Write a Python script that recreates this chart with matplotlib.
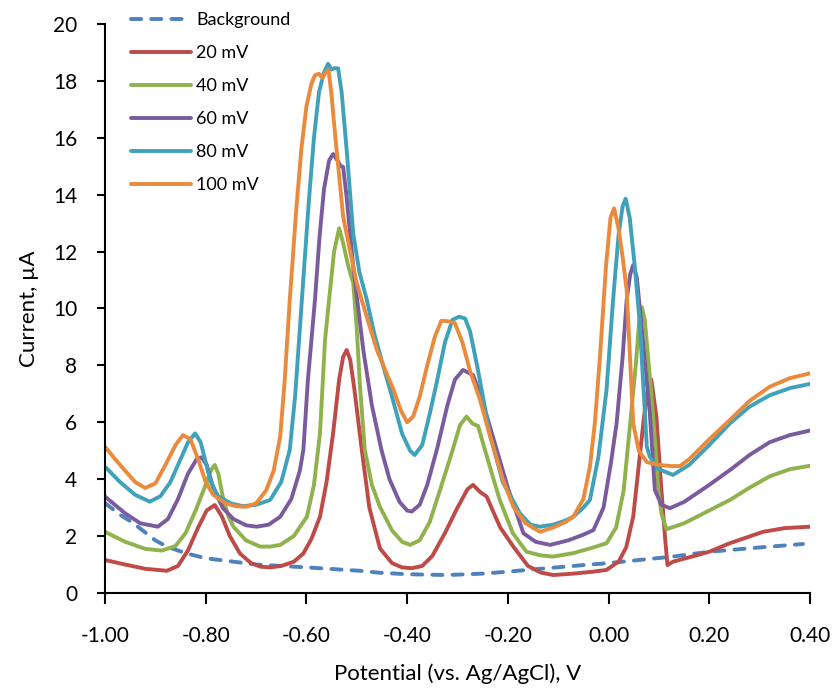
import matplotlib.pyplot as plt
from matplotlib.ticker import FormatStrFormatter, MultipleLocator

plt.rcParams['font.family'] = ['Lato', 'DejaVu Sans']

# Differential pulse voltammograms, current (uA) vs potential (V)
bg_x = [-1.00, -0.97, -0.944, -0.90, -0.877, -0.84, -0.80, -0.745, -0.70, -0.60,
        -0.494, -0.454, -0.40, -0.321, -0.25, -0.20, -0.123, -0.05, 0.00, 0.128,
        0.20, 0.30, 0.386]
bg_y = [3.16, 2.75, 2.46, 1.85, 1.63, 1.40, 1.22, 1.10, 1.00, 0.90,
        0.78, 0.71, 0.66, 0.63, 0.68, 0.75, 0.87, 0.98, 1.05, 1.28,
        1.45, 1.60, 1.72]

mv20_x = [-1.00, -0.96, -0.92, -0.877, -0.855, -0.835, -0.815, -0.798, -0.782, -0.768,
          -0.752, -0.732, -0.71, -0.69, -0.672, -0.65, -0.625, -0.606, -0.59, -0.573,
          -0.56, -0.547, -0.535, -0.527, -0.52, -0.513, -0.505, -0.49, -0.475, -0.454,
          -0.43, -0.41, -0.391, -0.37, -0.35, -0.325, -0.30, -0.28, -0.269, -0.255,
          -0.242, -0.23, -0.215, -0.189, -0.16, -0.135, -0.11, -0.07, -0.03, -0.004,
          0.02, 0.035, 0.049, 0.062, 0.069, 0.076, 0.085, 0.095, 0.105, 0.112,
          0.117, 0.128, 0.17, 0.20, 0.241, 0.307, 0.35, 0.40]
mv20_y = [1.16, 1.00, 0.85, 0.78, 0.95, 1.50, 2.30, 2.90, 3.09, 2.70,
          2.00, 1.39, 1.05, 0.92, 0.90, 0.95, 1.10, 1.39, 1.90, 2.68,
          3.90, 5.61, 7.50, 8.30, 8.54, 8.20, 7.20, 5.03, 3.00, 1.57,
          1.05, 0.90, 0.87, 0.95, 1.30, 2.10, 3.00, 3.65, 3.80, 3.55,
          3.39, 2.90, 2.30, 1.63, 0.95, 0.72, 0.63, 0.68, 0.75, 0.81,
          1.10, 1.60, 2.68, 4.80, 5.96, 7.00, 7.50, 6.20, 3.62, 2.00,
          0.98, 1.10, 1.30, 1.45, 1.75, 2.15, 2.28, 2.33]

mv40_x = [-1.00, -0.96, -0.92, -0.887, -0.86, -0.84, -0.82, -0.80, -0.79, -0.782,
          -0.775, -0.765, -0.755, -0.745, -0.72, -0.692, -0.672, -0.652, -0.625, -0.599,
          -0.585, -0.573, -0.563, -0.555, -0.545, -0.535, -0.527, -0.517, -0.507, -0.50,
          -0.494, -0.484, -0.47, -0.454, -0.43, -0.41, -0.394, -0.375, -0.355, -0.335,
          -0.31, -0.295, -0.282, -0.27, -0.259, -0.245, -0.23, -0.216, -0.19, -0.163,
          -0.135, -0.11, -0.07, -0.03, -0.004, 0.015, 0.03, 0.043, 0.055, 0.061,
          0.066, 0.072, 0.085, 0.093, 0.099, 0.105, 0.115, 0.15, 0.20, 0.241,
          0.28, 0.32, 0.36, 0.40]
mv40_y = [2.15, 1.80, 1.55, 1.49, 1.65, 2.10, 2.90, 3.80, 4.30, 4.50,
          4.20, 3.30, 2.70, 2.33, 1.85, 1.63, 1.63, 1.69, 2.00, 2.68,
          3.80, 5.61, 8.89, 10.30, 12.00, 12.82, 12.30, 11.50, 10.89, 9.30,
          7.37, 5.03, 3.80, 3.03, 2.20, 1.80, 1.69, 1.85, 2.50, 3.60,
          5.00, 5.90, 6.20, 5.95, 5.87, 5.00, 4.10, 3.27, 2.10, 1.45,
          1.32, 1.28, 1.40, 1.60, 1.75, 2.30, 3.60, 5.96, 8.20, 9.60,
          10.05, 9.60, 7.00, 5.20, 3.62, 2.80, 2.24, 2.45, 2.90, 3.27,
          3.70, 4.10, 4.35, 4.47]

mv60_x = [-1.00, -0.96, -0.93, -0.895, -0.875, -0.855, -0.835, -0.818, -0.808, -0.798,
          -0.785, -0.766, -0.745, -0.72, -0.699, -0.675, -0.652, -0.63, -0.613, -0.606,
          -0.597, -0.59, -0.583, -0.574, -0.565, -0.555, -0.547, -0.538, -0.532, -0.527,
          -0.52, -0.507, -0.497, -0.487, -0.47, -0.451, -0.435, -0.415, -0.40, -0.391,
          -0.375, -0.36, -0.34, -0.32, -0.305, -0.289, -0.269, -0.255, -0.238, -0.222,
          -0.20, -0.169, -0.145, -0.116, -0.08, -0.05, -0.03, -0.01, 0.005, 0.016,
          0.028, 0.036, 0.043, 0.049, 0.056, 0.065, 0.075, 0.082, 0.092, 0.105,
          0.122, 0.15, 0.20, 0.241, 0.28, 0.32, 0.36, 0.40]
mv60_y = [3.39, 2.80, 2.45, 2.33, 2.60, 3.30, 4.20, 4.70, 4.77, 4.50,
          3.70, 2.99, 2.60, 2.38, 2.33, 2.40, 2.68, 3.30, 4.30, 5.03,
          7.49, 8.89, 10.30, 12.50, 14.20, 15.20, 15.43, 15.20, 15.00, 14.98,
          13.90, 11.47, 10.00, 8.54, 6.60, 5.03, 4.00, 3.20, 2.90, 2.86,
          3.10, 3.80, 5.10, 6.60, 7.50, 7.84, 7.66, 7.00, 6.00, 5.03,
          3.70, 2.10, 1.80, 1.69, 1.85, 2.05, 2.21, 3.00, 4.60, 5.96,
          8.30, 10.30, 11.20, 11.53, 11.10, 9.50, 7.60, 6.32, 3.62, 3.10,
          2.98, 3.20, 3.80, 4.32, 4.85, 5.30, 5.55, 5.71]

mv80_x = [-1.00, -0.97, -0.94, -0.911, -0.89, -0.87, -0.85, -0.835, -0.821, -0.81,
          -0.80, -0.79, -0.775, -0.75, -0.726, -0.70, -0.672, -0.65, -0.633, -0.622,
          -0.609, -0.595, -0.585, -0.575, -0.565, -0.557, -0.55, -0.544, -0.537, -0.53,
          -0.52, -0.507, -0.495, -0.48, -0.465, -0.447, -0.43, -0.41, -0.394, -0.385,
          -0.37, -0.355, -0.34, -0.325, -0.31, -0.297, -0.285, -0.275, -0.26, -0.236,
          -0.21, -0.176, -0.155, -0.136, -0.11, -0.085, -0.07, -0.05, -0.037, -0.02,
          -0.004, 0.009, 0.02, 0.028, 0.034, 0.042, 0.052, 0.062, 0.07, 0.076,
          0.082, 0.10, 0.128, 0.16, 0.20, 0.241, 0.28, 0.32, 0.36, 0.40]
mv80_y = [4.44, 3.90, 3.45, 3.21, 3.40, 3.90, 4.70, 5.30, 5.61, 5.30,
          4.60, 3.90, 3.40, 3.15, 3.05, 3.10, 3.27, 3.90, 5.03, 7.00,
          10.30, 13.80, 16.00, 17.60, 18.30, 18.60, 18.40, 18.45, 18.44, 17.60,
          15.57, 12.64, 11.30, 10.30, 9.10, 7.95, 6.90, 5.60, 5.00, 4.85,
          5.20, 6.30, 7.50, 8.80, 9.60, 9.71, 9.65, 9.20, 7.90, 5.61,
          3.90, 2.80, 2.40, 2.33, 2.40, 2.55, 2.68, 3.00, 3.27, 4.80,
          7.14, 10.30, 12.60, 13.60, 13.86, 13.20, 11.50, 9.49, 7.00, 5.14,
          4.79, 4.35, 4.15, 4.50, 5.20, 5.96, 6.55, 6.95, 7.20, 7.35]

mv100_x = [-1.00, -0.97, -0.94, -0.92, -0.90, -0.88, -0.86, -0.845, -0.83, -0.815,
           -0.80, -0.785, -0.76, -0.74, -0.72, -0.70, -0.68, -0.665, -0.652, -0.643,
           -0.633, -0.62, -0.61, -0.60, -0.59, -0.583, -0.575, -0.568, -0.562, -0.556,
           -0.55, -0.545, -0.54, -0.527, -0.513, -0.50, -0.48, -0.46, -0.445, -0.427,
           -0.412, -0.40, -0.388, -0.375, -0.36, -0.345, -0.332, -0.318, -0.305, -0.29,
           -0.275, -0.255, -0.235, -0.21, -0.189, -0.165, -0.136, -0.11, -0.085, -0.07,
           -0.05, -0.037, -0.027, -0.017, -0.005, 0.004, 0.011, 0.02, 0.028, 0.036,
           0.042, 0.049, 0.06, 0.076, 0.10, 0.125, 0.142, 0.16, 0.20, 0.241,
           0.28, 0.32, 0.36, 0.40]
mv100_y = [5.14, 4.50, 3.90, 3.69, 3.85, 4.50, 5.20, 5.55, 5.40, 4.70,
           3.90, 3.45, 3.15, 3.05, 3.03, 3.15, 3.60, 4.30, 5.50, 7.50,
           10.30, 13.50, 15.60, 17.10, 17.90, 18.20, 18.25, 18.10, 18.30, 18.38,
           17.50, 16.50, 15.57, 13.23, 12.00, 10.89, 9.70, 8.54, 7.90, 7.14,
           6.40, 6.00, 6.20, 6.90, 8.00, 9.00, 9.57, 9.55, 9.48, 8.80,
           7.80, 6.78, 5.50, 4.00, 3.03, 2.45, 2.15, 2.30, 2.50, 2.68,
           3.30, 4.44, 6.00, 8.31, 11.50, 13.20, 13.52, 12.80, 11.80, 10.65,
           8.50, 5.96, 5.00, 4.60, 4.50, 4.46, 4.46, 4.70, 5.40, 6.08,
           6.75, 7.25, 7.55, 7.72]

fig = plt.figure(figsize=(8.37, 6.92), dpi=100)
ax = fig.add_axes([0.1254, 0.1431, 0.8423, 0.8222])

lw = 2.8
style = dict(linewidth=lw, solid_joinstyle="round", solid_capstyle="round")
ax.plot(bg_x, bg_y, color="#4F81BD", linewidth=lw, dashes=(2.6, 2.6),
        dash_capstyle="round", label="Background")
ax.plot(mv20_x, mv20_y, color="#BE4B48", label="20 mV", **style)
ax.plot(mv40_x, mv40_y, color="#8FB24D", label="40 mV", **style)
ax.plot(mv60_x, mv60_y, color="#7A5C9E", label="60 mV", **style)
ax.plot(mv80_x, mv80_y, color="#3FA2BA", label="80 mV", **style)
ax.plot(mv100_x, mv100_y, color="#EA8A3C", label="100 mV", **style)

ax.set_xlim(-1.0, 0.4)
ax.set_ylim(0, 20)
ax.xaxis.set_major_locator(MultipleLocator(0.2))
ax.xaxis.set_major_formatter(FormatStrFormatter("%.2f"))
ax.yaxis.set_major_locator(MultipleLocator(2))

for side in ["top", "right"]:
    ax.spines[side].set_visible(False)
for side in ["left", "bottom"]:
    ax.spines[side].set_linewidth(1.5)
ax.tick_params(axis="x", direction="out", length=8, width=1.5, labelsize=15, pad=16)
ax.tick_params(axis="y", direction="out", length=6, width=1.5, labelsize=15, pad=14)

ax.set_xlabel("Potential (vs. Ag/AgCl), V", fontsize=16, labelpad=12)
ax.set_ylabel("Current, µA", fontsize=16, labelpad=10)

ax.legend(loc="upper left", bbox_to_anchor=(0.157, 0.982),
          bbox_transform=fig.transFigure, frameon=False, fontsize=13,
          handlelength=3.3, handletextpad=0.3, labelspacing=0.94,
          borderpad=0, borderaxespad=0)

fig.savefig("out.png", dpi=100)
